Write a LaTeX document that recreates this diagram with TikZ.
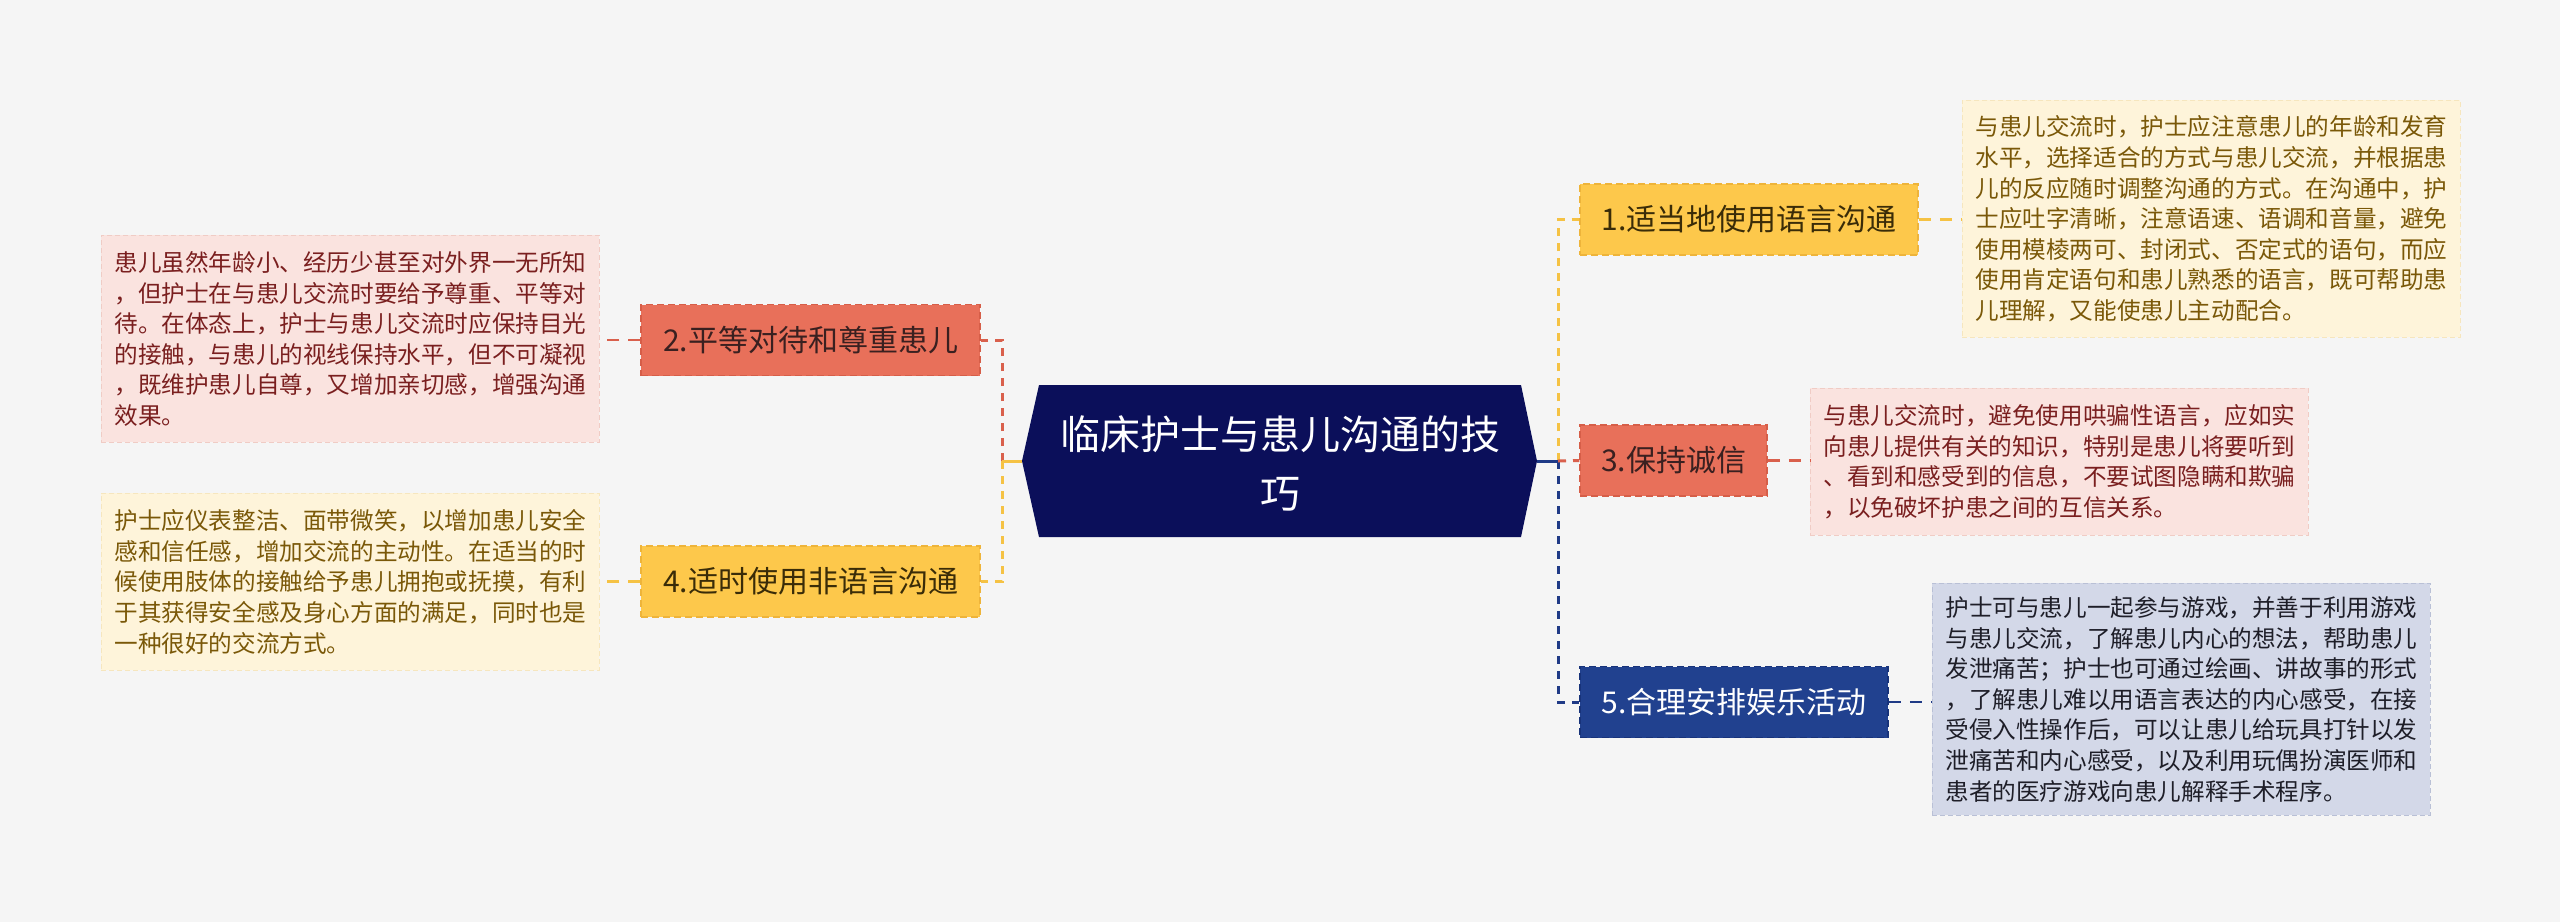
\documentclass[tikz,border=0pt]{standalone}
\usepackage{fontspec}
\setmainfont{Noto Sans CJK SC}
\definecolor{bgc}{HTML}{F5F5F5}
\definecolor{navy}{HTML}{0B0F5A}
\definecolor{ylw}{HTML}{FDC84B}
\definecolor{ylwd}{HTML}{EEB43A}
\definecolor{rdf}{HTML}{E8705A}
\definecolor{rdd}{HTML}{D65E48}
\definecolor{blu}{HTML}{21418F}
\definecolor{blud}{HTML}{18337A}
\definecolor{ylwl}{HTML}{FEF4DA}
\definecolor{ylwlb}{HTML}{F6E6BE}
\definecolor{pinkl}{HTML}{FAE3DF}
\definecolor{pinklb}{HTML}{F0CCC5}
\definecolor{blul}{HTML}{D3D8E8}
\definecolor{blulb}{HTML}{B9C0D6}
\definecolor{ytxt}{HTML}{7A5808}
\definecolor{rtxt}{HTML}{7A1F1F}
\definecolor{btxt}{HTML}{1E1E28}
\definecolor{ytop}{HTML}{3A2C08}
\definecolor{rtop}{HTML}{3A2020}
\definecolor{ylink}{HTML}{F5C244}
\definecolor{rlink}{HTML}{D9604C}
\definecolor{blink}{HTML}{1F3A86}
\begin{document}
\begin{tikzpicture}[x=1pt,y=-1pt,
  topic/.style={minimum height=71pt, inner sep=0pt, font=\fontsize{30}{36}\selectfont, dash pattern=on 7pt off 4pt, line width=1.5pt},
  ytopic/.style={topic, fill=ylw, draw=ylwd, text=ytop},
  rtopic/.style={topic, fill=rdf, draw=rdd, text=rtop},
  btopic/.style={topic, fill=blu, draw=blud, text=white},
  note/.style={anchor=north west, inner xsep=13pt, inner ysep=0pt, align=left, text width=472pt, font=\fontsize{23.6}{30.6}\selectfont, dash pattern=on 5pt off 3pt, line width=0.8pt},
  ynote/.style={note, fill=ylwl, draw=ylwlb, text=ytxt},
  rnote/.style={note, fill=pinkl, draw=pinklb, text=rtxt},
  bnote/.style={note, fill=blul, draw=blulb, text=btxt},
  lnk/.style={line width=3pt, dash pattern=on 8pt off 7pt},
  tlnk/.style={line width=2.2pt, dash pattern=on 12pt off 9pt}
]
\fill[bgc] (0,0) rectangle (2560,922);
\useasboundingbox (0,0) rectangle (2560,922);

% center
\fill[navy] (1022,461) -- (1039,385) -- (1521,385) -- (1537,461) -- (1521,537) -- (1039,537) -- cycle;
\node[text=white, align=center, font=\fontsize{40}{59}\selectfont, inner sep=0pt] (center) at (1280,463) {临床护士与患儿沟通的技\\巧};
\coordinate (cL) at (1022,461);
\coordinate (cR) at (1537,461);
\coordinate (jL) at (1002,461);
\coordinate (jR) at (1558,461);

% topics
\node[ytopic, minimum width=338pt] (n1) at (1749,219.5) {1.适当地使用语言沟通};
\node[rtopic, minimum width=187pt] (n3) at (1673.5,460.5) {3.保持诚信};
\node[btopic, minimum width=308pt] (n5) at (1734,702) {5.合理安排娱乐活动};
\node[rtopic, minimum width=339pt] (n2) at (810.5,340) {2.平等对待和尊重患儿};
\node[ytopic, minimum width=339pt] (n4) at (810.5,581.5) {4.适时使用非语言沟通};

% notes
\node[ynote, minimum height=237pt] (t1) at (1962,100) {与患儿交流时，护士应注意患儿的年龄和发育\\水平，选择适合的方式与患儿交流，并根据患\\儿的反应随时调整沟通的方式。在沟通中，护\\士应吐字清晰，注意语速、语调和音量，避免\\使用模棱两可、封闭式、否定式的语句，而应\\使用肯定语句和患儿熟悉的语言，既可帮助患\\儿理解，又能使患儿主动配合。};
\node[rnote, minimum height=147pt] (t3) at (1810,388) {与患儿交流时，避免使用哄骗性语言，应如实\\向患儿提供有关的知识，特别是患儿将要听到\\、看到和感受到的信息，不要试图隐瞒和欺骗\\，以免破坏护患之间的互信关系。};
\node[bnote, minimum height=232pt] (t5) at (1932,583) {护士可与患儿一起参与游戏，并善于利用游戏\\与患儿交流，了解患儿内心的想法，帮助患儿\\发泄痛苦；护士也可通过绘画、讲故事的形式\\，了解患儿难以用语言表达的内心感受，在接\\受侵入性操作后，可以让患儿给玩具打针以发\\泄痛苦和内心感受，以及利用玩偶扮演医师和\\患者的医疗游戏向患儿解释手术程序。};
\node[rnote, minimum height=207pt] (t2) at (101,235) {患儿虽然年龄小、经历少甚至对外界一无所知\\，但护士在与患儿交流时要给予尊重、平等对\\待。在体态上，护士与患儿交流时应保持目光\\的接触，与患儿的视线保持水平，但不可凝视\\，既维护患儿自尊，又增加亲切感，增强沟通\\效果。};
\node[ynote, minimum height=177pt] (t4) at (101,493) {护士应仪表整洁、面带微笑，以增加患儿安全\\感和信任感，增加交流的主动性。在适当的时\\候使用肢体的接触给予患儿拥抱或抚摸，有利\\于其获得安全感及身心方面的满足，同时也是\\一种很好的交流方式。};

% connectors center -> topics
\draw[lnk, rlink] (jL) |- (n2.east);
\draw[lnk, ylink] (jL) |- (n4.east);
\draw[line width=3pt, ylink] (cL) -- (jL);
\draw[lnk, ylink] (jR) |- (n1.west);
\draw[lnk, blink] (jR) |- (n5.west);
\draw[lnk, rlink] (jR) -- (n3.west);
\draw[line width=3pt, blink] (cR) -- (jR);

% topics -> notes
\draw[tlnk, ylink] (n1.east) -- (n1.east -| t1.west);
\draw[tlnk, rlink] (n3.east) -- (n3.east -| t3.west);
\draw[tlnk, blink] (n5.east) -- (n5.east -| t5.west);
\draw[tlnk, rlink] (n2.west) -- (n2.west -| t2.east);
\draw[tlnk, ylink] (n4.west) -- (n4.west -| t4.east);
\end{tikzpicture}
\end{document}
